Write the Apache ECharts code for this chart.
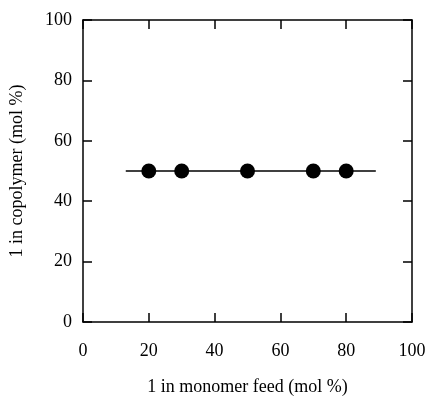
<!DOCTYPE html>
<html>
<head>
<meta charset="utf-8">
<script src="https://cdn.jsdelivr.net/npm/echarts@6/dist/echarts.min.js"></script>
<style>html,body{margin:0;padding:0;background:#fff;}#c{width:430px;height:396px;}</style>
</head>
<body>
<div id="c"></div>
<script>
const xTicks = [0, 20, 40, 60, 80, 100];
const yTicks = [0, 20, 40, 60, 80, 100];
const feed = [20, 30, 50, 70, 80];
const copolymer = [50, 50, 50, 50, 50];
const lineX = [13, 89];
const lineY = [50, 50];
const xName = '1 in monomer feed (mol %)';
const yName = '1 in copolymer (mol %)';

const font = 'Liberation Serif';
const chart = echarts.init(document.getElementById('c'));
const axBase = {
  type: 'value', min: xTicks[0], max: xTicks[xTicks.length - 1], interval: 20,
  axisLine: { show: true, onZero: false, lineStyle: { color: '#000', width: 1.5 } },
  axisTick: { show: true, inside: true, length: 9, lineStyle: { color: '#000', width: 1.5 } },
  splitLine: { show: false }
};
chart.setOption({
  animation: false,
  grid: { left: 83, right: 18, top: 20, bottom: 74, containLabel: false, outerBoundsMode: 'none' },
  xAxis: [
    Object.assign({}, axBase, {
      position: 'bottom', name: xName, nameLocation: 'middle', nameGap: 56,
      nameTextStyle: { fontFamily: font, fontSize: 18, color: '#000' },
      axisLabel: { fontFamily: font, fontSize: 18, color: '#000', margin: 20 }
    }),
    Object.assign({}, axBase, { position: 'top', axisLabel: { show: false } })
  ],
  yAxis: [
    Object.assign({}, axBase, {
      min: yTicks[0], max: yTicks[yTicks.length - 1],
      position: 'left', name: yName, nameLocation: 'middle', nameGap: 57,
      nameTextStyle: { fontFamily: font, fontSize: 18, color: '#000' },
      axisLabel: { fontFamily: font, fontSize: 18, color: '#000', margin: 11 }
    }),
    Object.assign({}, axBase, {
      min: yTicks[0], max: yTicks[yTicks.length - 1],
      position: 'right', axisLabel: { show: false }
    })
  ],
  series: [
    {
      type: 'line', data: lineX.map((x, i) => [x, lineY[i]]), symbol: 'none',
      lineStyle: { color: '#000', width: 1.5 }, z: 1
    },
    {
      type: 'scatter', data: feed.map((x, i) => [x, copolymer[i]]),
      symbolSize: 15, itemStyle: { color: '#000', opacity: 1 }, z: 2
    }
  ]
});
</script>
</body>
</html>
